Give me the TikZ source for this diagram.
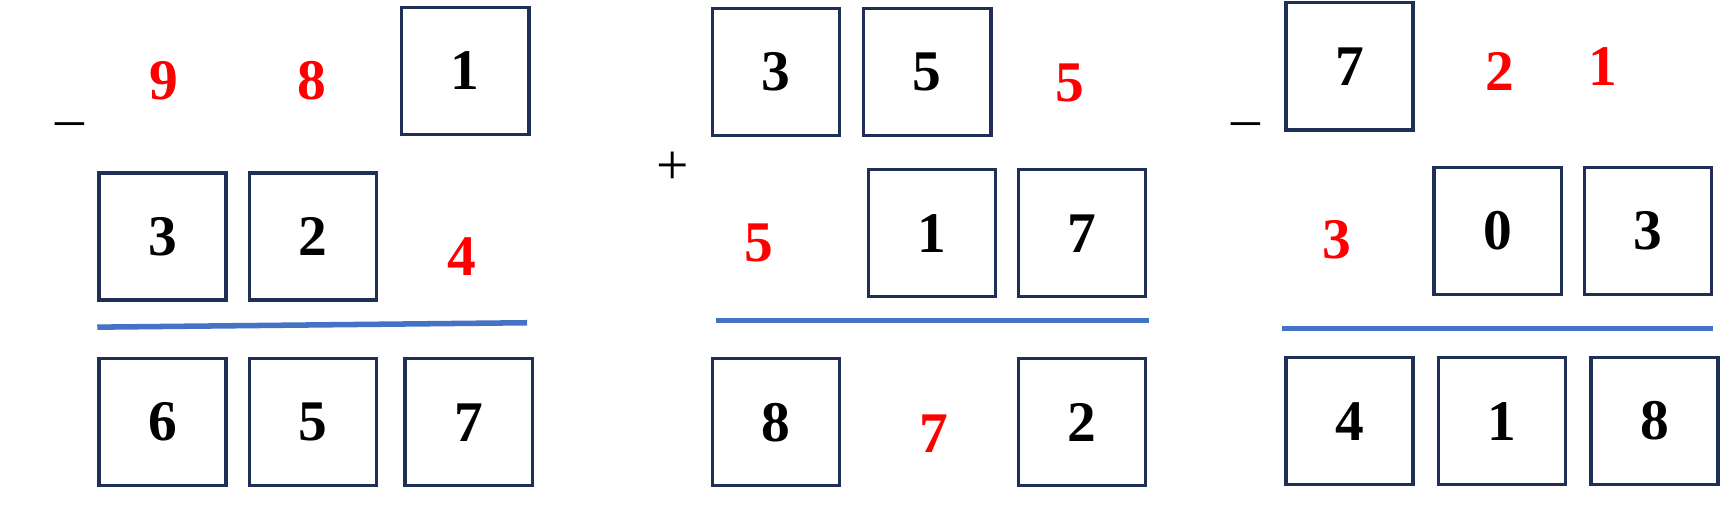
\documentclass[tikz,border=0pt]{standalone}
\usepackage{fontspec}
\setmainfont{Liberation Serif}
\definecolor{boxc}{HTML}{1F2F55}
\definecolor{linec}{HTML}{4472C4}
\definecolor{redc}{HTML}{FF0000}
\tikzset{
 bx/.style={draw=boxc,line width=3pt,minimum width=115pt,minimum height=115pt,inner sep=0pt,font=\fontsize{52}{52}\selectfont\bfseries},
 rd/.style={text=redc,inner sep=0pt,font=\fontsize{52}{52}\selectfont\bfseries},
 sg/.style={inner sep=0pt,font=\fontsize{52}{52}\selectfont},
 ln/.style={draw=linec,line width=5pt}
}
\begin{document}
\begin{tikzpicture}[x=1pt,y=-1pt]
\useasboundingbox (0,0) rectangle (1568,480.4);
% panel 1
\node[sg] (m1) at (63,118) {–};
\node[rd] (a9) at (148,73) {9};
\node[rd] (a8) at (282,73) {8};
\node[bx] (a1) at (421,64) {1};
\node[bx] (b3) at (147,214) {3};
\node[bx] (b2) at (283,214) {2};
\node[rd] (b4) at (418,232) {4};
\coordinate (l1a) at (88,296); \coordinate (l1b) at (477,292);
\draw[ln] (l1a) -- (l1b);
\node[bx] (c6) at (147,382) {6};
\node[bx] (c5) at (283,382) {5};
\node[bx] (c7) at (424,382) {7};
% panel 2
\node[sg] (p2) at (609,152) {+};
\node[bx] (d3) at (702,65) {3};
\node[bx] (d5) at (839,65) {5};
\node[rd] (d5r) at (968,75) {5};
\node[rd] (e5) at (687,220) {5};
\node[bx] (e1) at (843,211) {1};
\node[bx] (e7) at (979,211) {7};
\coordinate (l2a) at (648,290); \coordinate (l2b) at (1040,290);
\draw[ln] (l2a) -- (l2b);
\node[bx] (f8) at (702,382) {8};
\node[rd] (f7) at (845,392) {7};
\node[bx] (f2) at (979,382) {2};
% panel 3
\node[sg] (m3) at (1127,118) {–};
\node[bx] (g7) at (1221,60) {7};
\node[rd] (g2) at (1357,65) {2};
\node[rd] (g1) at (1450,60) {1};
\node[rd] (h3) at (1210,217) {3};
\node[bx] (h0) at (1355,209) {0};
\node[bx] (h3b) at (1491,209) {3};
\coordinate (l3a) at (1160,297); \coordinate (l3b) at (1550,297);
\draw[ln] (l3a) -- (l3b);
\node[bx] (k4) at (1221,381) {4};
\node[bx] (k1) at (1359,381) {1};
\node[bx] (k8) at (1497,381) {8};
\end{tikzpicture}
\end{document}
